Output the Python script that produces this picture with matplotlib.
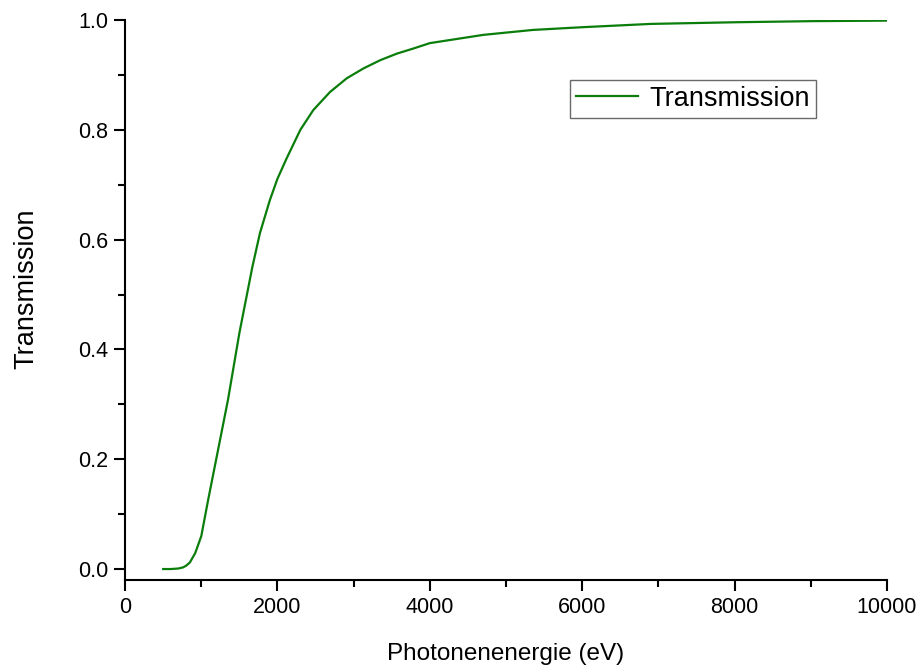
import matplotlib
matplotlib.use("Agg")
import matplotlib.pyplot as plt
from matplotlib.ticker import MultipleLocator

plt.rcParams['font.family'] = ['Liberation Sans', 'DejaVu Sans']

# values
energy = [500, 600, 700, 760, 800, 850, 920, 1000, 1090, 1220, 1350, 1500,
          1670, 1770, 1900, 2000, 2120, 2300, 2470, 2690, 2910, 3130, 3350,
          3570, 3780, 4000, 4700, 5350, 6000, 6900, 8000, 9000, 10000]
transmission = [0.0, 0.0, 0.001, 0.003, 0.006, 0.012, 0.029, 0.06, 0.126,
                0.217, 0.308, 0.43, 0.55, 0.612, 0.672, 0.711, 0.748, 0.800,
                0.836, 0.869, 0.894, 0.912, 0.927, 0.939, 0.948, 0.958, 0.973,
                0.982, 0.987, 0.993, 0.996, 0.998, 0.999]

fig = plt.figure(figsize=(9.2, 6.69), dpi=100)
ax = fig.add_axes([0.136, 0.133, 0.828, 0.837])

ax.plot(energy, transmission, color='#0a7d0a', lw=1.6, label='Transmission')

ax.set_xlim(0, 10000)
ax.set_ylim(-0.02, 1.0)
ax.xaxis.set_major_locator(MultipleLocator(2000))
ax.xaxis.set_minor_locator(MultipleLocator(1000))
ax.yaxis.set_major_locator(MultipleLocator(0.2))
ax.yaxis.set_minor_locator(MultipleLocator(0.1))
ax.yaxis.set_major_formatter(plt.FuncFormatter(lambda v, p: f'{v:.1f}'))

for s in ['top', 'right']:
    ax.spines[s].set_visible(False)
for s in ['left', 'bottom']:
    ax.spines[s].set_linewidth(1.5)

ax.tick_params(which='major', direction='out', length=8, width=1.5,
               labelsize=15.5, pad=4)
ax.tick_params(which='minor', direction='out', length=5, width=1.5)

ax.set_xlabel('Photonenenergie (eV)', fontsize=17.5, labelpad=18)
ax.set_ylabel('Transmission', fontsize=19.5)
ax.yaxis.set_label_coords(-0.112, 0.52)

leg = ax.legend(loc='upper left', bbox_to_anchor=(0.584, 0.893), fontsize=19.5,
                fancybox=False, frameon=True, edgecolor='#444444',
                handlelength=2.3, borderpad=0.22, handletextpad=0.4,
                borderaxespad=0)
leg.get_frame().set_linewidth(1.0)

fig.savefig('out.png', dpi=100)
